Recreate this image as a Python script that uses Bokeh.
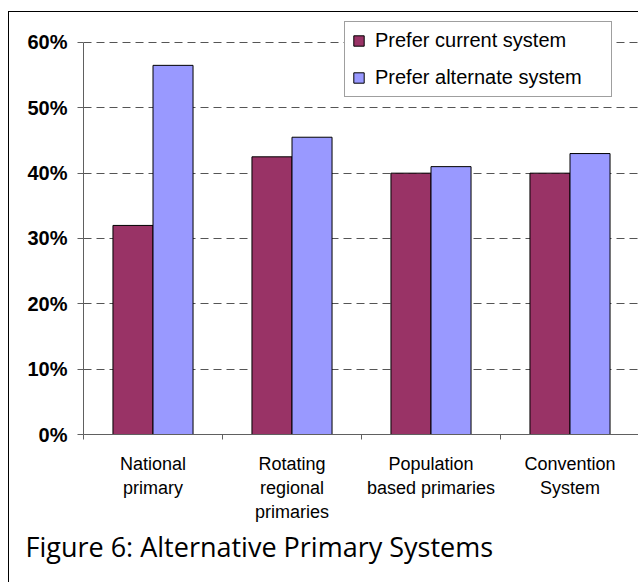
import numpy as np
from bokeh.plotting import figure
from bokeh.models import (ColumnDataSource, FixedTicker, NumeralTickFormatter,
                          Legend, LegendItem, Title)
from bokeh.transform import dodge
from bokeh.embed import file_html
from bokeh.resources import INLINE

categories = ["National\nprimary", "Rotating\nregional\nprimaries",
              "Population\nbased primaries", "Convention\nSystem"]
prefer_current = [0.32, 0.425, 0.40, 0.40]
prefer_alternate = [0.565, 0.455, 0.41, 0.43]
y_ticks = [0.0, 0.1, 0.2, 0.3, 0.4, 0.5, 0.6]
caption = "Figure 6: Alternative Primary Systems"

centers = list(np.arange(len(categories)) + 0.5)
src = ColumnDataSource(dict(x=centers, cur=prefer_current, alt=prefer_alternate))

# canvas sits inside a bordered box offset (9, 12) in the page
p = figure(width=630, height=571, output_backend="svg", toolbar_location=None,
           x_range=(0, len(categories)), y_range=(0, 0.6459),
           min_border_left=74, min_border_top=0, min_border_right=0,
           min_border_bottom=149)
p.margin = (11, 0, 0, 8)
p.styles = {"border-top": "1px solid black", "border-left": "1px solid black"}
p.outline_line_color = None
p.background_fill_color = "white"
p.border_fill_color = "white"

bw = 0.288
r1 = p.vbar(x=dodge("x", -bw / 2), top="cur", width=bw, source=src,
            fill_color="#993366", line_color="black", line_width=1)
r2 = p.vbar(x=dodge("x", bw / 2), top="alt", width=bw, source=src,
            fill_color="#9999FF", line_color="black", line_width=1)

xa = p.xaxis[0]
xa.ticker = FixedTicker(ticks=centers, minor_ticks=list(range(len(categories) + 1)))
xa.major_label_overrides = {c: lab for c, lab in zip(centers, categories)}
xa.major_tick_line_color = None
xa.major_tick_out = 0
xa.major_tick_in = 0
xa.minor_tick_out = 5
xa.minor_tick_in = 0
xa.minor_tick_line_color = "#606060"
xa.axis_line_color = "#606060"
xa.major_label_text_font = "Liberation Sans"
xa.major_label_text_font_size = "18px"
xa.major_label_text_color = "black"
xa.major_label_standoff = 14

ya = p.yaxis[0]
ya.ticker = FixedTicker(ticks=y_ticks)
ya.formatter = NumeralTickFormatter(format="0%")
ya.bounds = (0, 0.6)
ya.minor_tick_line_color = None
ya.major_tick_out = 6
ya.major_tick_in = 0
ya.major_tick_line_color = "#606060"
ya.axis_line_color = "#606060"
ya.major_label_text_font = "Liberation Sans"
ya.major_label_text_font_style = "bold"
ya.major_label_text_font_size = "20px"
ya.major_label_text_color = "black"
ya.major_label_standoff = 10

p.xgrid.grid_line_color = None
p.ygrid.ticker = FixedTicker(ticks=y_ticks[1:])
p.ygrid.grid_line_color = "#555555"
p.ygrid.grid_line_dash = "8 5"
p.ygrid.grid_line_width = 1

legend = Legend(items=[LegendItem(label="Prefer current system", renderers=[r1]),
                       LegendItem(label="Prefer alternate system", renderers=[r2])],
                location=(261, 337))
legend.label_text_font = "Liberation Sans"
legend.label_text_font_size = "20px"
legend.label_text_color = "black"
legend.glyph_width = 13
legend.glyph_height = 13
legend.label_height = 20
legend.label_width = 229
legend.label_standoff = 10
legend.spacing = 14
legend.padding = 7
legend.margin = 0
legend.border_line_color = "#404040"
legend.border_line_width = 1
legend.background_fill_color = "white"
legend.background_fill_alpha = 1
p.add_layout(legend)

cap = Title(text=caption, align="left", text_font="Open Sans",
            text_font_size="27px", text_font_style="normal", text_color="black",
            offset=-58, standoff=2)
p.add_layout(cap, "below")

open("out.html", "w").write(file_html(p, INLINE))
